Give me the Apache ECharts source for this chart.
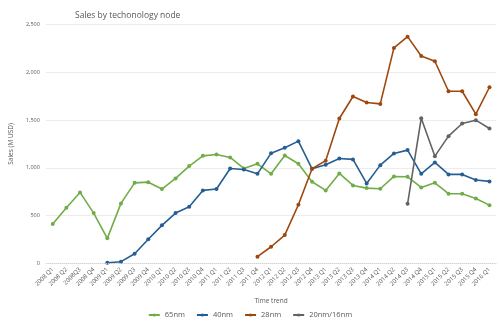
<!DOCTYPE html>
<html>
<head>
<meta charset="utf-8">
<script src="https://cdn.jsdelivr.net/npm/echarts@6/dist/echarts.min.js"></script>
<style>
  html, body { margin: 0; padding: 0; background: #fff; }
  #chart { width: 500px; height: 328px; }
</style>
</head>
<body>
<div id="chart"></div>
<script>
// Quarterly foundry sales per technology node (M USD)
const quarters = [
  '2008 Q1', '2008 Q2', '2008Q3', '2008 Q4',
  '2009 Q1', '2009 Q2', '2009 Q3', '2009 Q4',
  '2010 Q1', '2010 Q2', '2010 Q3', '2010 Q4',
  '2011 Q1', '2011 Q2', '2011 Q3', '2011 Q4',
  '2012 Q1', '2012 Q2', '2012 Q3', '2012 Q4',
  '2013 Q1', '2013 Q2', '2013 Q3', '2013 Q4',
  '2014 Q1', '2014 Q2', '2014 Q3', '2014 Q4',
  '2015 Q1', '2015 Q2', '2015 Q3', '2015 Q4',
  '2016 Q1'
];

const nm65 = [
  412, 583, 743, 527, 263, 628, 843, 850, 778, 889, 1018, 1125,
  1140, 1108, 993, 1042, 937, 1129, 1042, 854, 764, 941, 816, 788,
  781, 910, 906, 795, 843, 729, 729, 680, 610
];

const nm40 = [
  null, null, null, null, 8, 19, 102, 253, 399, 527, 593, 764,
  778, 993, 983, 937, 1153, 1209, 1279, 990, 1033, 1098, 1088, 837,
  1028, 1150, 1185, 937, 1056, 931, 931, 872, 858
];

const nm28 = [
  null, null, null, null, null, null, null, null, null, null, null, null,
  null, null, null, 71, 175, 297, 614, 990, 1075, 1515, 1745, 1683,
  1668, 2253, 2371, 2169, 2114, 1800, 1800, 1561, 1842
];

const nm20 = [
  null, null, null, null, null, null, null, null, null, null, null, null,
  null, null, null, null, null, null, null, null, null, null, null, null,
  null, null, 624, 1519, 1122, 1331, 1463, 1498, 1411
];

const yTicks = [0, 500, 1000, 1500, 2000, 2500];

const seriesDefs = [
  { name: '65nm', data: nm65, color: '#70ad47' },
  { name: '40nm', data: nm40, color: '#255e91' },
  { name: '28nm', data: nm28, color: '#9e480e' },
  { name: '20nm/16nm', data: nm20, color: '#636363' }
];

const chart = echarts.init(document.getElementById('chart'));
chart.setOption({
  animation: false,
  textStyle: { fontFamily: 'Open Sans, Noto Sans, sans-serif' },
  title: {
    text: 'Sales by techonology node',
    left: 70,
    top: 6,
    textStyle: { fontSize: 8.5, fontWeight: 'normal', color: '#595959' }
  },
  legend: {
    bottom: 4,
    left: 'center',
    itemWidth: 11,
    itemHeight: 4,
    itemGap: 11,
    textStyle: { fontSize: 7.5, color: '#595959' },
    data: seriesDefs.map(s => s.name)
  },
  grid: { left: 38.4, right: 3.7, top: 24.3, bottom: 64.5, containLabel: false },
  xAxis: {
    type: 'category',
    data: quarters,
    boundaryGap: true,
    name: 'Time trend',
    nameLocation: 'middle',
    nameGap: 34,
    nameTextStyle: { fontSize: 6.5, color: '#595959' },
    axisLine: { show: false },
    axisTick: { show: false },
    axisLabel: { rotate: 45, fontSize: 6, color: '#595959', interval: 0, margin: 5 }
  },
  yAxis: {
    type: 'value',
    min: yTicks[0],
    max: yTicks[yTicks.length - 1],
    interval: 500,
    name: 'Sales (M USD)',
    nameLocation: 'middle',
    nameGap: 27,
    nameTextStyle: { fontSize: 6.5, color: '#595959' },
    axisLine: { show: false },
    axisTick: { show: false },
    axisLabel: {
      fontSize: 5.5, color: '#595959', margin: 6,
      formatter: v => v.toLocaleString('en-US')
    },
    splitLine: {
      lineStyle: { color: '#ececec', width: 1, type: 'solid' }
    }
  },
  series: seriesDefs.map(s => ({
    name: s.name,
    type: 'line',
    data: s.data,
    color: s.color,
    symbol: 'circle',
    symbolSize: 4,
    connectNulls: false,
    lineStyle: { width: 1.6, color: s.color },
    itemStyle: { color: s.color }
  })).concat([{
    // dotted zero baseline
    type: 'line',
    data: [],
    markLine: {
      silent: true,
      symbol: 'none',
      label: { show: false },
      lineStyle: { color: '#cfcfcf', type: 'dotted', width: 1 },
      data: [{ yAxis: 0 }]
    }
  }])
});
</script>
</body>
</html>
